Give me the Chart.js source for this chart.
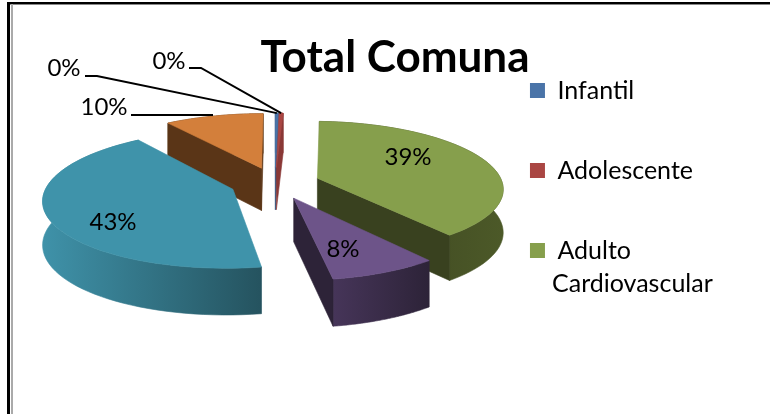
<!DOCTYPE html>
<html><head><meta charset="utf-8">
<style>
html,body{margin:0;padding:0;background:#fff;width:770px;height:414px;overflow:hidden}
#c{position:absolute;left:0;top:0}
.f{position:absolute}
</style>
<script src="https://cdn.jsdelivr.net/npm/chart.js@4"></script>
</head><body>
<canvas id="c" width="770" height="414"></canvas>
<div class="f" style="left:7px;top:2px;width:3px;height:412px;background:#000"></div>
<div class="f" style="left:7px;top:2px;width:763px;height:2px;background:#000"></div>
<div class="f" style="left:10px;top:4px;width:760px;height:1px;background:#888"></div>
<div class="f" style="left:11px;top:4px;width:2px;height:410px;background:#aaa"></div>
<script>
const categories = ['Infantil','Adolescente','Adulto Cardiovascular','Categoría 4','Categoría 5','Categoría 6'];
const seriesValues = [0.3,0.4,38.7,8,42.6,10];
const topColors = ['#4a74a8','#aa4643','#869f4c','#6d5489','#3f93aa','#d37f3b'];
const wallColors = ['#3a5a85','#8a3836','#39411f','#2d2338','#25535f','#5a3517'];
const stripLeft = ['#3a5a85','#8a3836','#39411f','#463559','#3f92a9','#5a3517'];
const stripRight = ['#3a5a85','#8a3836','#4c5928','#2d2338','#25535f','#5a3517'];
const legendCount = 3;
const FONT = 'Lato, "Open Sans", sans-serif';
const V = {cx:275,cy:183,R:185,K:66,p:0.14,H:43,explode:45};
const pct = seriesValues.map(v=>Math.round(v/seriesValues.reduce((a,b)=>a+b,0)*100)+'%');
function proj(X,Y,z){const w=1-V.p*Y;return [V.cx+X*V.R/w,V.cy+Y*V.K/w+z*V.H/Math.sqrt(w)];}
function rimPts(el,i,z,n){
  const m=(el.startAngle+el.endAngle)/2,d=el.options.offset/V.R,ox=Math.cos(m)*d,oy=Math.sin(m)*d;
  const pts=[];
  for(let k=0;k<=n;k++){const a=el.startAngle+(el.endAngle-el.startAngle)*k/n;pts.push(proj(ox+Math.cos(a),oy+Math.sin(a),z));}
  return {pts,apex:proj(ox,oy,z)};
}
function poly(ctx,p,fill){ctx.beginPath();p.forEach((q,i)=>i?ctx.lineTo(q[0],q[1]):ctx.moveTo(q[0],q[1]));ctx.closePath();ctx.fillStyle=fill;ctx.strokeStyle=fill;ctx.lineWidth=0.6;ctx.fill();ctx.stroke();}
function wallFaces(a,r,m){const dx=r[0]-a[0];if(Math.abs(dx)<0.01)return false;return (dx*(m[1]-a[1])-(r[1]-a[1])*(m[0]-a[0]))/dx<0;}
const pie3d={id:'pie3d',
  beforeDatasetsDraw(chart){
    const ctx=chart.ctx,arcs=chart.getDatasetMeta(0).data;
    const order=arcs.map((el,i)=>({el,i,y:Math.sin((el.startAngle+el.endAngle)/2)})).sort((a,b)=>a.y-b.y);
    order.forEach(({el,i})=>{
      const t=rimPts(el,i,0,60),b=rimPts(el,i,1,60),np=t.pts.length-1,mid=t.pts[np/2];
      const xs=t.pts.map(q=>q[0]),g=ctx.createLinearGradient(Math.min(...xs),0,Math.max(...xs),0);
      g.addColorStop(0,stripLeft[i]);g.addColorStop(1,stripRight[i]);
      poly(ctx,t.pts.concat(b.pts.slice().reverse()),g);
      [0,np].forEach(k=>{ if(wallFaces(t.apex,t.pts[k],mid)) poly(ctx,[t.apex,t.pts[k],b.pts[k],b.apex],wallColors[i]); });
      poly(ctx,[t.apex].concat(t.pts),el.options.backgroundColor);
    });
    ctx.save();ctx.fillStyle='#000';ctx.font='24px '+FONT;ctx.textAlign='center';ctx.textBaseline='middle';
    const lab=[[64,68],[169,61],[408,157],[343,249],[113,222],[104,107]];
    arcs.forEach((el,i)=>ctx.fillText(pct[i],lab[i][0],lab[i][1]));
    const rim=i=>{const e=arcs[i],m=(e.startAngle+e.endAngle)/2;return rimPts({startAngle:m,endAngle:m,options:e.options},i,0,1).pts[0];};
    ctx.strokeStyle='#000';ctx.lineWidth=2;
    const seg=(pts)=>{ctx.beginPath();pts.forEach((q,k)=>k?ctx.lineTo(q[0],q[1]):ctx.moveTo(q[0],q[1]));ctx.stroke();};
    seg([[85,76],[97,76],rim(0)]);
    seg([[189,68],[201,68],rim(1)]);
    seg([[131,115],[213,115]]);
    ctx.restore();
    return false;
  },
  afterDraw(chart){
    const ctx=chart.ctx;
    ctx.save();ctx.fillStyle='#000';ctx.font='25px '+FONT;ctx.textBaseline='middle';
    ctx.fillText(categories[2].split(' ')[1],552,284);ctx.restore();
  }
};
new Chart(document.getElementById('c'),{
  type:'doughnut',
  data:{labels:categories,datasets:[{data:seriesValues,backgroundColor:topColors,borderWidth:0,offset:V.explode}]},
  plugins:[pie3d],
  options:{responsive:false,animation:false,cutout:0,rotation:0,
    layout:{padding:{left:87,right:67,top:23,bottom:0}},
    plugins:{
      tooltip:{enabled:false},
      title:{display:true,text:'Total Comuna',color:'#000',font:{family:FONT,size:44,weight:'bold'},padding:{top:8,bottom:2}},
      legend:{position:'right',align:'start',labels:{boxWidth:15,boxHeight:15,padding:55,color:'#000',font:{family:FONT,size:25},
        generateLabels(chart){
          return Chart.overrides.doughnut.plugins.legend.labels.generateLabels(chart).slice(0,legendCount).map(l=>({...l,text:l.text.split(' ')[0]}));
        }}}
    }}
});
</script>
</body></html>
